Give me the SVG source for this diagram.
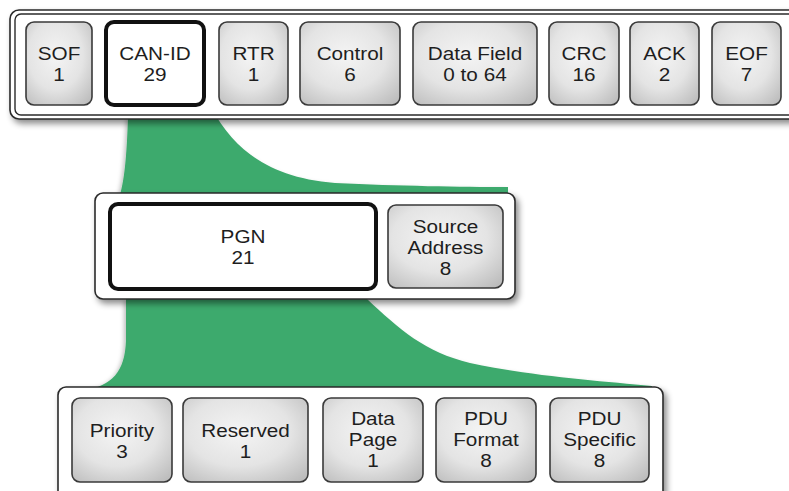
<svg xmlns="http://www.w3.org/2000/svg" width="789" height="491" viewBox="0 0 789 491">
  <defs>
    <radialGradient id="gray" cx="0.45" cy="0.4" r="0.75">
      <stop offset="0" stop-color="#f4f4f4"/>
      <stop offset="0.55" stop-color="#e4e4e4"/>
      <stop offset="1" stop-color="#bdbdbd"/>
    </radialGradient>
    <filter id="shadow" x="-10%" y="-20%" width="125%" height="150%">
      <feDropShadow dx="3" dy="4" stdDeviation="3" flood-color="#000" flood-opacity="0.45"/>
    </filter>
    <filter id="gshadow" x="-10%" y="-10%" width="120%" height="130%">
      <feDropShadow dx="-2" dy="2" stdDeviation="2" flood-color="#000" flood-opacity="0.25"/>
    </filter>
  </defs>
  <style>
    .container { fill: #ffffff; stroke: #2a2a2a; stroke-width: 1.6; }
    .inner { fill: none; stroke: #2a2a2a; stroke-width: 1.4; }
    .field { fill: url(#gray); stroke: #3a3a3a; stroke-width: 1.6; }
    .key { fill: #ffffff; stroke: #111111; stroke-width: 4; }
    .flow { fill: #3eaa6d; }
    text { font-family: "Liberation Sans", Arial, sans-serif; font-size: 18.5px; fill: #1e1e1e; text-anchor: middle; }
  </style>

  <rect width="789" height="491" fill="#ffffff"/>

  <g id="connectors">
    <path class="flow" filter="url(#gshadow)" d="M128,116 L216,116 C240,155 275,178 335,183 C400,186 460,187 508,187 L508,195 L120,195 C125,178 127,150 128,116 Z"/>
    <path class="flow" filter="url(#gshadow)" d="M126,298 L366,298 C400,330 425,352 470,363 C530,376 600,381 652,386 L652,390 L84,390 C112,386 125,372 126,340 Z"/>
  </g>

  <g id="can-frame" filter="url(#shadow)">
    <rect class="container" x="10" y="10" width="800" height="109" rx="9"/>
    <rect class="inner" x="15" y="14" width="790" height="101" rx="6"/>
  </g>

  <g id="sof">
    <rect class="field" x="26" y="22" width="66" height="83" rx="8"/>
    <g transform="translate(59 0) scale(1.12 1)"><text x="0" y="60">SOF</text><text x="0" y="81">1</text></g>
  </g>
  <g id="can-id">
    <rect class="key" x="106" y="22" width="98" height="83" rx="8"/>
    <g transform="translate(155 0) scale(1.12 1)"><text x="0" y="60">CAN-ID</text><text x="0" y="81">29</text></g>
  </g>
  <g id="rtr">
    <rect class="field" x="219" y="22" width="69" height="83" rx="8"/>
    <g transform="translate(253.5 0) scale(1.12 1)"><text x="0" y="60">RTR</text><text x="0" y="81">1</text></g>
  </g>
  <g id="control">
    <rect class="field" x="300" y="22" width="100" height="83" rx="8"/>
    <g transform="translate(350 0) scale(1.12 1)"><text x="0" y="60">Control</text><text x="0" y="81">6</text></g>
  </g>
  <g id="data-field">
    <rect class="field" x="413" y="22" width="124" height="83" rx="8"/>
    <g transform="translate(475 0) scale(1.12 1)"><text x="0" y="60">Data Field</text><text x="0" y="81">0 to 64</text></g>
  </g>
  <g id="crc">
    <rect class="field" x="549" y="22" width="70" height="83" rx="8"/>
    <g transform="translate(584 0) scale(1.12 1)"><text x="0" y="60">CRC</text><text x="0" y="81">16</text></g>
  </g>
  <g id="ack">
    <rect class="field" x="630" y="22" width="69" height="83" rx="8"/>
    <g transform="translate(664.5 0) scale(1.12 1)"><text x="0" y="60">ACK</text><text x="0" y="81">2</text></g>
  </g>
  <g id="eof">
    <rect class="field" x="712" y="22" width="69" height="83" rx="8"/>
    <g transform="translate(746.5 0) scale(1.12 1)"><text x="0" y="60">EOF</text><text x="0" y="81">7</text></g>
  </g>

  <g id="j1939-id" filter="url(#shadow)">
    <rect class="container" x="95" y="193" width="420" height="106" rx="8"/>
  </g>
  <g id="pgn">
    <rect class="key" x="110" y="204" width="266" height="85" rx="8"/>
    <g transform="translate(243 0) scale(1.12 1)"><text x="0" y="243">PGN</text><text x="0" y="264">21</text></g>
  </g>
  <g id="source-address">
    <rect class="field" x="388" y="205" width="115" height="83" rx="8"/>
    <g transform="translate(445.5 0) scale(1.12 1)"><text x="0" y="233">Source</text><text x="0" y="254">Address</text><text x="0" y="275">8</text></g>
  </g>

  <g id="pgn-breakdown" filter="url(#shadow)">
    <rect class="container" x="58" y="387" width="605" height="115" rx="8"/>
  </g>
  <g id="priority">
    <rect class="field" x="72" y="398" width="100" height="84" rx="8"/>
    <g transform="translate(122 0) scale(1.12 1)"><text x="0" y="437">Priority</text><text x="0" y="458">3</text></g>
  </g>
  <g id="reserved">
    <rect class="field" x="183" y="398" width="125" height="84" rx="8"/>
    <g transform="translate(245.5 0) scale(1.12 1)"><text x="0" y="437">Reserved</text><text x="0" y="458">1</text></g>
  </g>
  <g id="data-page">
    <rect class="field" x="323" y="398" width="100" height="84" rx="8"/>
    <g transform="translate(373 0) scale(1.12 1)"><text x="0" y="425">Data</text><text x="0" y="446">Page</text><text x="0" y="467">1</text></g>
  </g>
  <g id="pdu-format">
    <rect class="field" x="436" y="398" width="100" height="84" rx="8"/>
    <g transform="translate(486 0) scale(1.12 1)"><text x="0" y="425">PDU</text><text x="0" y="446">Format</text><text x="0" y="467">8</text></g>
  </g>
  <g id="pdu-specific">
    <rect class="field" x="550" y="398" width="99" height="84" rx="8"/>
    <g transform="translate(599.5 0) scale(1.12 1)"><text x="0" y="425">PDU</text><text x="0" y="446">Specific</text><text x="0" y="467">8</text></g>
  </g>
</svg>
